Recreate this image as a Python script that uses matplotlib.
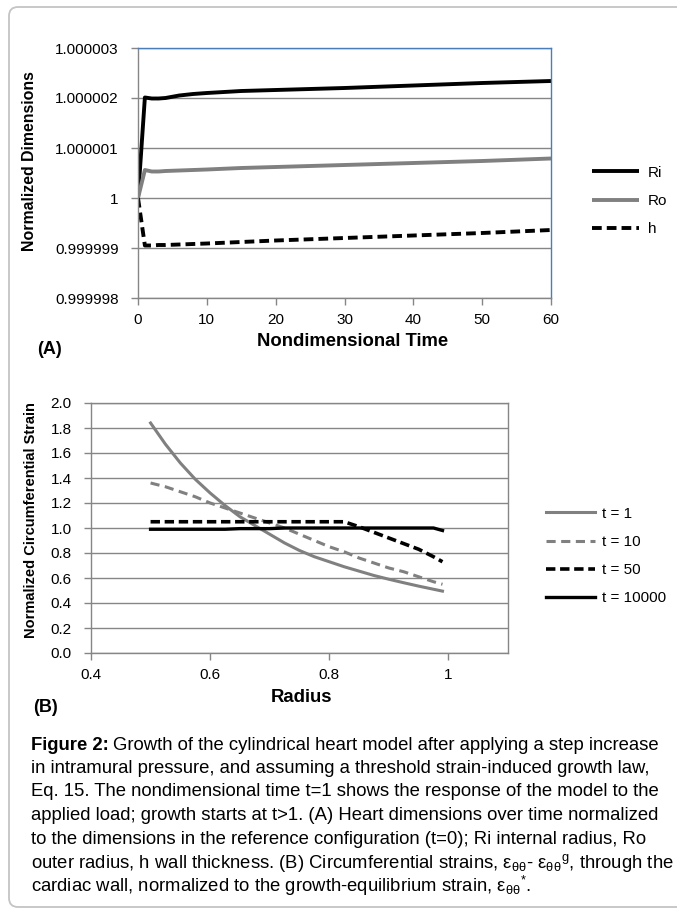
import matplotlib
matplotlib.use("Agg")
import matplotlib.pyplot as plt
from matplotlib.patches import FancyBboxPatch
from matplotlib.transforms import IdentityTransform

plt.rcParams['font.family'] = ['Liberation Sans', 'DejaVu Sans']
plt.rcParams['mathtext.fontset'] = 'custom'
plt.rcParams['mathtext.rm'] = 'Liberation Sans'
plt.rcParams['mathtext.it'] = 'Liberation Sans'
plt.rcParams['mathtext.default'] = 'regular'

GRAY = '#808080'
AXIS_GRAY = '#868686'
BLUE_EDGE = '#4a7ebb'

# ---- panel A: normalized dimensions vs nondimensional time ----
time_a = [0, 1, 2, 3, 4, 6, 8, 10, 15, 20, 30, 40, 50, 60]
ri = [1.0, 1.00000201, 1.00000199, 1.00000199, 1.0000020, 1.00000205, 1.00000208,
      1.0000021, 1.00000214, 1.00000216, 1.0000022, 1.00000225, 1.0000023, 1.00000234]
ro = [1.0, 1.00000056, 1.00000053, 1.00000053, 1.00000054, 1.00000055, 1.00000056,
      1.00000057, 1.0000006, 1.00000062, 1.00000066, 1.0000007, 1.00000074, 1.00000079]
h = [1.0, 0.99999905, 0.99999905, 0.99999906, 0.99999906, 0.99999907, 0.99999908,
     0.99999909, 0.99999912, 0.99999915, 0.9999992, 0.99999925, 0.9999993, 0.99999936]
ya_ticks = [0.999998, 0.999999, 1.0, 1.000001, 1.000002, 1.000003]
ya_labels = ['0.999998', '0.999999', '1', '1.000001', '1.000002', '1.000003']
xa_ticks = [0, 10, 20, 30, 40, 50, 60]

# ---- panel B: normalized circumferential strain vs radius ----
radius = [0.5, 0.525, 0.55, 0.575, 0.6, 0.625, 0.65, 0.675, 0.7, 0.725, 0.75,
          0.775, 0.8, 0.825, 0.85, 0.875, 0.9, 0.925, 0.95, 0.975, 0.99]
t1 = [1.84, 1.67, 1.52, 1.39, 1.28, 1.18, 1.09, 1.02, 0.95, 0.88, 0.82,
      0.77, 0.73, 0.69, 0.655, 0.62, 0.59, 0.562, 0.535, 0.51, 0.495]
t10 = [1.36, 1.33, 1.29, 1.25, 1.20, 1.16, 1.12, 1.08, 1.04, 1.00, 0.95,
       0.90, 0.85, 0.81, 0.76, 0.72, 0.68, 0.65, 0.61, 0.57, 0.55]
t50 = [1.05, 1.05, 1.05, 1.05, 1.05, 1.05, 1.05, 1.05, 1.05, 1.05, 1.05,
       1.05, 1.05, 1.05, 1.01, 0.965, 0.92, 0.875, 0.83, 0.77, 0.73]
t10000 = [0.99, 0.99, 0.99, 0.99, 0.99, 0.99, 0.995, 0.995, 0.995, 1.0, 1.0,
          1.0, 1.0, 1.0, 1.0, 1.0, 1.0, 1.0, 1.0, 1.0, 0.98]
yb_ticks = [0.0, 0.2, 0.4, 0.6, 0.8, 1.0, 1.2, 1.4, 1.6, 1.8, 2.0]
xb_ticks = [0.4, 0.6, 0.8, 1.0]
xb_labels = ['0.4', '0.6', '0.8', '1']

caption = [
    "in intramural pressure, and assuming a threshold strain-induced growth law,",
    "Eq. 15. The nondimensional time t=1 shows the response of the model to the",
    "applied load; growth starts at t>1. (A) Heart dimensions over time normalized",
    "to the dimensions in the reference configuration (t=0); Ri internal radius, Ro",
    r"outer radius, h wall thickness. (B) Circumferential strains, $\varepsilon_{\theta\theta}$- ${\varepsilon_{\theta\theta}}^{g}$, through the",
    r"cardiac wall, normalized to the growth-equilibrium strain, ${\varepsilon_{\theta\theta}}^{*}$.",
]

W, H = 677, 909
fig = plt.figure(figsize=(W / 100, H / 100), dpi=100)


def px(x, y):
    return x / W, 1 - y / H


def style_axes(ax):
    ax.set_axisbelow(True)
    ax.yaxis.grid(True, color=AXIS_GRAY, lw=1.0)
    for s in ax.spines.values():
        s.set_color(AXIS_GRAY)
        s.set_linewidth(1.0)
    ax.tick_params(direction='out', length=5, width=1, color=AXIS_GRAY, labelsize=11)
    ax.tick_params(axis='y', pad=9)
    ax.tick_params(axis='x', pad=6)


# panel A
axA = fig.add_axes([138 / W, 1 - 298 / H, 413 / W, 250 / H])
style_axes(axA)
axA.spines['top'].set_color(BLUE_EDGE)
axA.spines['right'].set_color(BLUE_EDGE)
axA.plot(time_a, ri, color='black', lw=2.8, label='Ri', solid_capstyle='butt')
axA.plot(time_a, ro, color=GRAY, lw=2.8, label='Ro', solid_capstyle='butt')
axA.plot(time_a, h, color='black', lw=2.8, dashes=(2.5, 1.3), label='h')
axA.set_xlim(0, 60)
axA.set_ylim(0.999998, 1.000003)
axA.set_yticks(ya_ticks)
axA.set_yticklabels(ya_labels)
axA.set_xticks(xa_ticks)
axA.legend(loc='center left', bbox_to_anchor=px(592, 201), bbox_transform=fig.transFigure,
           frameon=False, fontsize=11, handlelength=3.1, handletextpad=0.55,
           labelspacing=0.93, borderpad=0, borderaxespad=0)

fig.text(*px(353, 341), 'Nondimensional Time', ha='center', va='center',
         fontsize=13.3, fontweight='bold')
fig.text(*px(30, 161), 'Normalized Dimensions', ha='center', va='center',
         rotation=90, fontsize=11.4, fontweight='bold')
fig.text(*px(37, 349), '(A)', ha='left', va='center', fontsize=13, fontweight='bold')

# panel B
axB = fig.add_axes([91 / W, 1 - 653 / H, 417 / W, 250 / H])
style_axes(axB)
axB.plot(radius, t1, color=GRAY, lw=2.2, label='t = 1')
axB.plot(radius, t10, color=GRAY, lw=2.2, dashes=(3, 1.8), label='t = 10')
axB.plot(radius, t50, color='black', lw=2.6, dashes=(2.6, 1.3), label='t = 50')
axB.plot(radius, t10000, color='black', lw=2.4, label='t = 10000')
axB.set_xlim(0.4, 1.1)
axB.set_ylim(0, 2.0)
axB.set_yticks(yb_ticks)
axB.set_yticklabels(['%.1f' % v for v in yb_ticks])
axB.set_xticks(xb_ticks)
axB.set_xticklabels(xb_labels)
axB.legend(loc='center left', bbox_to_anchor=px(546, 556), bbox_transform=fig.transFigure,
           frameon=False, fontsize=11, handlelength=3.2, handletextpad=0.45,
           labelspacing=0.93, borderpad=0, borderaxespad=0)

fig.text(*px(302, 697), 'Radius', ha='center', va='center', fontsize=13.3, fontweight='bold')
fig.text(*px(31, 520), 'Normalized Circumferential Strain', ha='center', va='center',
         rotation=90, fontsize=10.5, fontweight='bold')
fig.text(*px(33, 707), '(B)', ha='left', va='center', fontsize=13, fontweight='bold')

# caption
cap_size = 13.3
line_gap = 23.5
y0 = 745
renderer = fig.canvas.get_renderer()
bold = fig.text(*px(31, y0), 'Figure 2:', ha='left', va='center', fontsize=cap_size,
                fontweight='bold')
bb = bold.get_window_extent(renderer)
fig.text(bb.x1 / W + 4 / W, 1 - y0 / H,
         'Growth of the cylindrical heart model after applying a step increase',
         ha='left', va='center', fontsize=cap_size)
for i, line in enumerate(caption):
    fig.text(*px(31, y0 + (i + 1) * line_gap), line, ha='left', va='center', fontsize=cap_size)

# rounded frame around the whole figure
frame = FancyBboxPatch((9, 2), 720, 900, boxstyle='round,pad=0,rounding_size=9',
                       transform=IdentityTransform(), fill=False, ec='#c4c4c4', lw=1.3)
fig.add_artist(frame)

fig.savefig('out.png', dpi=100)
